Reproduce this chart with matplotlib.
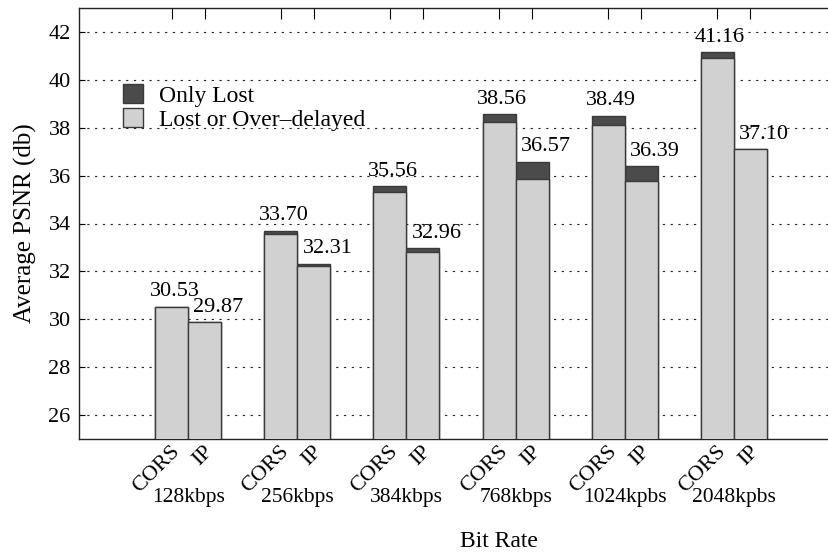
import numpy as np
import matplotlib

matplotlib.use("Agg")
import matplotlib.pyplot as plt
from matplotlib.patches import Patch
from matplotlib.transforms import ScaledTranslation

# values
bit_rates = ["128kbps", "256kbps", "384kbps", "768kbps", "1024kpbs", "2048kpbs"]
schemes = ["CORS", "IP"]
cors_only_lost = [30.53, 33.70, 35.56, 38.56, 38.49, 41.16]
ip_only_lost = [29.87, 32.31, 32.96, 36.57, 36.39, 37.10]
cors_lost_delayed = [30.53, 33.58, 35.31, 38.25, 38.10, 40.92]
ip_lost_delayed = [29.87, 32.23, 32.80, 35.87, 35.79, 37.10]

dark = "#4b4b4b"
light = "#d0d1d0"
edge = "#3a3a3a"

plt.rcParams["font.family"] = ["Liberation Serif", "DejaVu Serif"]

fig = plt.figure(figsize=(8.29, 5.53), dpi=100)
ax = fig.add_axes([79 / 829, 1 - 439 / 553, 764 / 829, 431 / 553])

groups = np.arange(1, len(bit_rates) + 1)
w = 0.302
x_cors = groups - w / 2
x_ip = groups + w / 2

for xs, top, low in [(x_cors, cors_only_lost, cors_lost_delayed), (x_ip, ip_only_lost, ip_lost_delayed)]:
    ax.bar(xs, top, width=w, color=dark, edgecolor=edge, linewidth=1.0, zorder=2)
    ax.bar(xs, low, width=w, color=light, edgecolor=edge, linewidth=1.0, zorder=3)

for i in range(len(bit_rates)):
    ax.annotate("{:.2f}".format(cors_only_lost[i]), (x_cors[i], cors_only_lost[i]),
                xytext=(2, 4), textcoords="offset points", ha="center", va="bottom", fontsize=16)
    ax.annotate("{:.2f}".format(ip_only_lost[i]), (x_ip[i], ip_only_lost[i]),
                xytext=(10, 4), textcoords="offset points", ha="center", va="bottom", fontsize=16)

ax.set_xlim(0, 7)
ax.set_ylim(25, 43)
ax.set_yticks(range(26, 43, 2))
ax.yaxis.grid(True, linestyle=(0, (2, 5)), color="#222222", linewidth=0.8)
ax.set_axisbelow(True)
ax.tick_params(axis="y", direction="in", length=4, labelsize=16, right=False, pad=6)

ticks = np.ravel(np.column_stack([x_cors, x_ip]))
ax.set_xticks(ticks)
ax.set_xticklabels(schemes * len(bit_rates), rotation=45, ha="right", va="center",
                   rotation_mode="anchor", fontsize=16)
ax.tick_params(axis="x", direction="in", length=8, bottom=False, top=True, pad=7)
shift = ScaledTranslation(4 / 72, 0, fig.dpi_scale_trans)
for lab in ax.get_xticklabels():
    lab.set_transform(lab.get_transform() + shift)

for g, label in zip(groups, bit_rates):
    ax.text(g, -0.135, label, transform=ax.get_xaxis_transform(), ha="center", va="center", fontsize=15.5)
ax.text(3.85, -0.237, "Bit Rate", transform=ax.get_xaxis_transform(), ha="center", va="center", fontsize=17)
ax.set_ylabel("Average PSNR (db)", fontsize=18, labelpad=8)

for s in ax.spines.values():
    s.set_linewidth(1.0)
    s.set_color("#222222")

handles = [Patch(facecolor=dark, edgecolor=edge), Patch(facecolor=light, edgecolor=edge)]
ax.legend(handles, ["Only Lost", "Lost or Over\u2013delayed"], loc="upper left",
          bbox_to_anchor=(0.045, 0.845), frameon=False, fontsize=17,
          handlelength=0.85, handleheight=0.85, handletextpad=0.7, labelspacing=0.05,
          borderaxespad=0)

fig.savefig("out.png", dpi=100)
